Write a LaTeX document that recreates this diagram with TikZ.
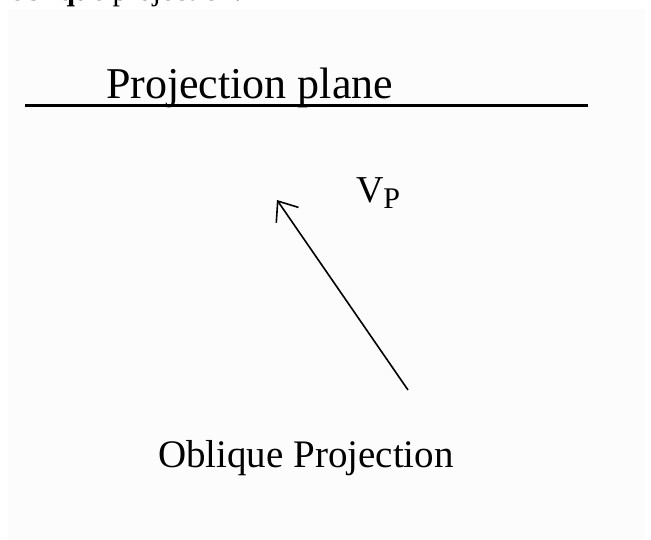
\documentclass[tikz,border=0pt]{standalone}
\usepackage{fontspec}
\setmainfont{Liberation Serif}
\usetikzlibrary{arrows.meta}
\definecolor{pagegrey}{RGB}{252,252,252}
\begin{document}
\begin{tikzpicture}[x=1pt,y=-1pt,
  lbl/.style={anchor=base west,inner sep=0pt,outer sep=0pt,text=black},
  vec/.style={line width=1.6pt,-{Straight Barb[length=17pt,width=27pt,line width=1.6pt]}}]
\clip (0,0) rectangle (651,539);
\fill[white] (0,0) rectangle (651,539);
\fill[pagegrey] (8,9) rectangle (645,539);
\node[lbl,font=\fontsize{30}{30}\selectfont] (cap) at (10,0.5) {\textbf{oblique} projection.};
\node[lbl,font=\fontsize{44}{44}\selectfont] (pp) at (106,98) {Projection plane};
\coordinate (pl) at (25,105);
\coordinate (pr) at (588,105);
\draw[line width=3pt] (pl) -- (pr);
\coordinate (tail) at (408,390);
\coordinate (tip) at (277,200);
\draw[vec] (tail) -- (tip);
\node[lbl,font=\fontsize{38}{38}\selectfont] (vp) at (356,202) {V\raisebox{-6pt}{\fontsize{30}{30}\selectfont P}};
\node[lbl,font=\fontsize{39}{39}\selectfont] (ob) at (158,467) {Oblique Projection};
\end{tikzpicture}
\end{document}
